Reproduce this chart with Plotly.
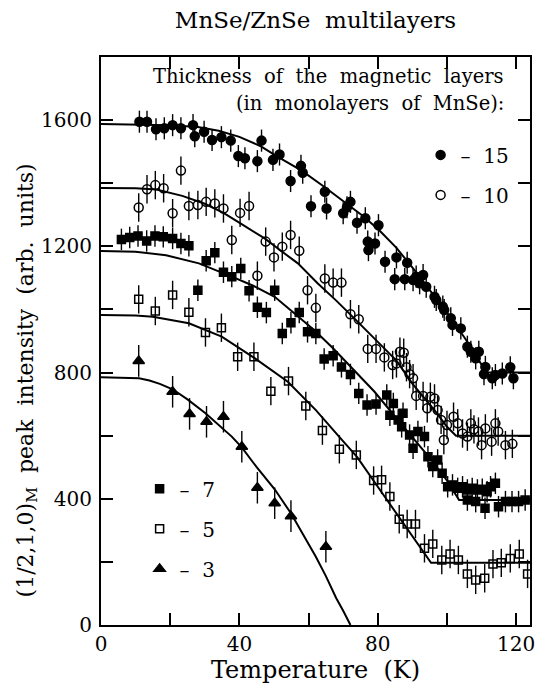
import plotly.graph_objects as go

FONT = "DejaVu Serif"
NB = "\u00a0"

t15 = [11.1, 13.3, 15.9, 18.3, 20.7, 23.1, 26.6, 27.1, 29.8, 32.1, 34.8, 37.5, 39.7, 41.6, 45.2, 46.4,
       49.7, 51.6, 54.8, 57.8, 58.3, 60.7, 64.7, 65.2, 70.0, 71.1, 72.1, 74.0, 76.4, 77.1, 77.3, 79.2,
       80.2, 82.1, 84.9, 85.4, 87.8, 88.5, 90.2, 91.1, 92.1, 93.1, 94.0, 96.4, 96.9, 98.8, 99.2, 101.1,
       101.6, 104.0, 105.9, 106.9, 108.3, 109.2, 110.7, 111.1, 113.1, 114.0, 116.0, 118.3, 119.2]
i15 = [1595, 1595, 1571, 1574, 1584, 1574, 1584, 1549, 1563, 1537, 1546, 1535, 1486, 1479, 1470, 1535,
       1474, 1491, 1407, 1455, 1433, 1327, 1373, 1320, 1305, 1324, 1341, 1275, 1289, 1215, 1188, 1209,
       1267, 1151, 1096, 1165, 1096, 1148, 1093, 1104, 1083, 1109, 1072, 1040, 1030, 1009, 998, 972,
       951, 940, 882, 866, 845, 866, 795, 818, 782, 792, 797, 817, 782]

t10 = [10.9, 13.3, 15.7, 18.1, 20.7, 23.1, 25.4, 28.0, 30.4, 32.9, 35.4, 37.8, 40.2, 42.8, 45.2, 47.6,
       50.0, 52.4, 54.8, 57.3, 59.7, 62.1, 64.7, 67.1, 69.5, 72.1, 74.5, 77.1, 79.5, 81.9, 84.3, 85.4,
       86.4, 87.5, 88.3, 89.2, 90.2, 91.1, 93.1, 94.3, 95.2, 96.4, 97.3, 98.3, 99.1, 100.0, 101.9, 103.1,
       104.5, 105.9, 106.9, 107.8, 109.1, 110.0, 111.1, 112.9, 114.0, 114.8, 116.9, 118.9]
i10 = [1323, 1381, 1394, 1384, 1305, 1440, 1328, 1331, 1341, 1336, 1320, 1220, 1306, 1328, 1107, 1215,
       1165, 1199, 1236, 1186, 1061, 1005, 1098, 1085, 1085, 985, 969, 875, 875, 848, 824, 829,
       866, 863, 817, 795, 782, 726, 726, 687, 723, 718, 681, 650, 586, 634, 660, 639,
       607, 597, 639, 620, 613, 570, 623, 581, 639, 613, 570, 574]

t7 = [5.9, 8.3, 10.7, 13.2, 15.6, 18.0, 20.7, 23.1, 25.4, 28.0, 30.4, 32.9, 35.4, 37.8, 40.4, 42.8,
      45.2, 47.8, 50.2, 52.4, 54.9, 57.3, 59.7, 62.1, 64.5, 67.1, 69.5, 72.1, 74.5, 76.9, 79.5, 82.6,
      83.5, 84.5, 85.9, 86.9, 87.3, 89.2, 90.2, 91.6, 93.5, 94.5, 95.9, 97.3, 98.6, 100.2, 101.6, 103.1,
      104.5, 105.9, 105.9, 107.3, 108.3, 108.8, 110.2, 111.0, 111.6, 112.6, 114.0, 114.9, 116.9, 118.8,
      120.7, 122.6]
i7 = [1222, 1228, 1233, 1217, 1233, 1230, 1225, 1209, 1202, 1061, 1154, 1180, 1118, 1104, 1130, 1059,
      1007, 990, 1061, 924, 958, 990, 929, 924, 843, 853, 818, 794, 734, 697, 700, 729,
      665, 702, 650, 628, 671, 602, 560, 613, 597, 533, 502, 523, 481, 438, 444, 433,
      438, 428, 396, 433, 391, 428, 430, 370, 422, 438, 449, 375, 391, 391,
      391, 396]

t5 = [10.9, 15.7, 20.7, 25.4, 30.2, 34.8, 39.5, 44.2, 49.1, 54.2, 59.2, 64.0, 68.9, 73.8, 78.8, 81.1,
      83.5, 86.2, 88.5, 90.9, 93.5, 95.9, 98.5, 100.9, 103.3, 105.9, 108.3, 110.9, 113.3, 115.7, 118.3,
      120.9, 123.3]
i5 = [1032, 995, 1046, 991, 927, 942, 850, 850, 741, 773, 694, 616, 557, 539, 458, 460,
      407, 335, 320, 320, 243, 257, 206, 225, 206, 162, 143, 148, 193, 197, 211,
      225, 162]

t3 = [10.9, 20.7, 25.6, 30.5, 35.4, 40.7, 45.2, 50.2, 54.9, 65.0]
i3 = [837, 739, 669, 644, 660, 565, 435, 386, 345, 248]

err15, err10, err7, err5, err3 = 35, 45, 34, 45, 50

# ---- fitted curves ----
ft15 = [0, 10, 20, 28, 34, 40, 46, 51, 58, 64.5, 70, 76, 80.5, 85.4, 90.2, 95, 100, 105, 108, 111.3, 124]
fi15 = [1588, 1587, 1584, 1578, 1566, 1547, 1518, 1484, 1440, 1389, 1343, 1294, 1250, 1195, 1130, 1062,
        990, 912, 862, 800, 800]
ft10 = [0, 10, 16, 23.5, 30, 35.4, 41, 47.3, 52, 56.9, 62.6, 68, 74, 80, 85.4, 90, 94, 97, 100, 102.6, 124]
fi10 = [1385, 1384, 1380, 1360, 1335, 1306, 1268, 1225, 1186, 1146, 1083, 1028, 963, 898, 838, 765,
        712, 672, 628, 600, 600]
ft7 = [0, 10, 18.8, 28.3, 37.8, 44, 50.2, 56, 61.6, 67, 73, 79, 85, 90.7, 95, 100, 103.5, 124]
fi7 = [1185, 1183, 1172, 1146, 1104, 1075, 1040, 985, 935, 878, 810, 740, 660, 586, 530, 458, 396, 396]
ft5 = [0, 10, 15, 25.4, 34.9, 44.5, 54, 62.1, 69.7, 74, 80, 85, 90, 95.4, 124]
fi5 = [982, 981, 977, 956, 914, 845, 771, 681, 586, 533, 438, 359, 280, 197, 197]
ft3 = [0, 8, 11, 14, 17, 20.7, 25, 30.2, 34, 37.8, 40.7, 45, 50.2, 54.9, 58, 62.1, 65, 68, 70, 72.1]
fi3 = [785, 784, 782, 775, 764, 747, 715, 671, 635, 597, 563, 500, 430, 354, 295, 216, 155, 85, 45, 0]

series_names = ["–" + NB * 2 + "15", "–" + NB * 2 + "10", "–" + NB * 2 + "7", "–" + NB * 2 + "5", "–" + NB * 2 + "3"]
title_text = "MnSe/ZnSe" + NB * 2 + "multilayers"
legend_head1 = "Thickness  of  the  magnetic  layers".replace("  ", NB * 2)
legend_head2 = "(in  monolayers  of  MnSe):".replace("  ", NB * 2)
x_title = "Temperature" + NB * 2 + "(K)"
y_title = "(1/2,1,0)<sub>M</sub>  peak  intensity  (arb.  units)".replace("  ", NB * 2)
x_tickvals = [0, 40, 80, 120]
y_tickvals = [0, 400, 800, 1200, 1600]

fig = go.Figure()

# fit curves
for ft, fi in [(ft15, fi15), (ft10, fi10), (ft7, fi7), (ft5, fi5), (ft3, fi3)]:
    fig.add_trace(go.Scatter(x=ft, y=fi, mode="lines", line=dict(color="black", width=2),
                             showlegend=False, hoverinfo="skip"))

def pts(t, i, err, symbol, size, name, legend, group, lw=1.5):
    return go.Scatter(
        x=t, y=i, mode="markers", name=name, legend=legend, legendgroup=group,
        marker=dict(symbol=symbol, size=size, color="black", line=dict(color="black", width=lw)),
        error_y=dict(type="constant", value=err, color="black", thickness=1.4, width=0),
    )

fig.add_trace(pts(t15, i15, err15, "circle", 9, series_names[0], "legend", "a"))
fig.add_trace(pts(t10, i10, err10, "circle-open", 9, series_names[1], "legend", "b"))
fig.add_trace(pts(t7, i7, err7, "square", 8, series_names[2], "legend2", "c"))
fig.add_trace(pts(t5, i5, err5, "square-open", 8, series_names[3], "legend2", "d"))
fig.add_trace(pts(t3, i3, err3, "triangle-up", 10, series_names[4], "legend2", "e"))

axis_common = dict(
    showgrid=False, zeroline=False, showline=True, linecolor="black", linewidth=2,
    mirror="ticks", ticks="inside", ticklen=12, tickwidth=1.5, tickcolor="black",
    tickfont=dict(family=FONT, size=20, color="black"),
)

fig.update_xaxes(range=[0, 124], tickvals=x_tickvals, **axis_common, ticklabeloverflow="allow",
                 minor=dict(dtick=20, tick0=0, ticks="inside", ticklen=12, tickwidth=1.5,
                            tickcolor="black", showgrid=False),
                 title=dict(text=x_title, font=dict(family=FONT, size=24, color="black"), standoff=2))
fig.update_yaxes(range=[0, 1800], tickvals=y_tickvals, **axis_common, ticklabelstandoff=3,
                 minor=dict(dtick=200, tick0=0, ticks="inside", ticklen=12, tickwidth=1.5,
                            tickcolor="black", showgrid=False))

fig.update_layout(
    width=538, height=684, autosize=False,
    margin=dict(l=101, r=3, t=57, b=59),
    paper_bgcolor="white", plot_bgcolor="white",
    font=dict(family=FONT, color="black"),
    title=dict(text=title_text, x=0.5, xref="paper", xanchor="center", y=0.971, yanchor="middle",
               font=dict(family=FONT, size=23, color="black")),
    legend=dict(x=0.745, xanchor="left", y=0.862, yanchor="top", bgcolor="rgba(0,0,0,0)",
                font=dict(family=FONT, size=20, color="black"), traceorder="grouped",
                tracegroupgap=11, itemwidth=30),
    legend2=dict(x=0.09, xanchor="left", y=0.274, yanchor="top", bgcolor="rgba(0,0,0,0)",
                 font=dict(family=FONT, size=20, color="black"), traceorder="grouped",
                 tracegroupgap=11, itemwidth=30),
    annotations=[
        dict(text=legend_head1, xref="paper", yref="paper", x=0.945, y=0.965, xanchor="right",
             yanchor="middle", showarrow=False, font=dict(family=FONT, size=19.5, color="black")),
        dict(text=legend_head2, xref="paper", yref="paper", x=0.945, y=0.919, xanchor="right",
             yanchor="middle", showarrow=False, font=dict(family=FONT, size=19.5, color="black")),
        dict(text=y_title, xref="paper", yref="paper", x=-0.171, y=0.43, xanchor="center",
             yanchor="middle", textangle=-90, showarrow=False,
             font=dict(family=FONT, size=22, color="black")),
    ],
)

fig.write_html("out.html", config={"displayModeBar": False},
               post_script="document.body.style.margin='0px';")
